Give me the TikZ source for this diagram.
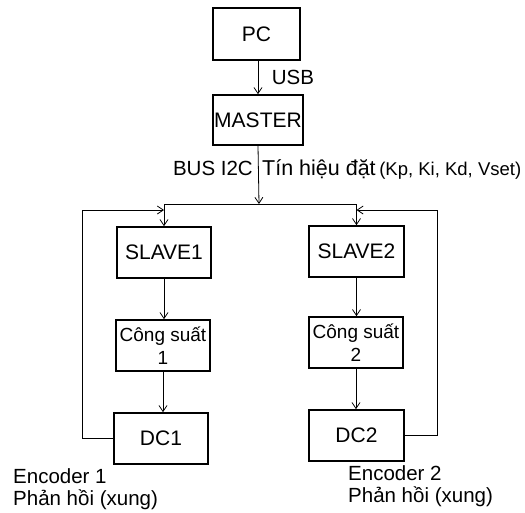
\documentclass[tikz,border=0pt]{standalone}
\usepackage{fontspec}
\setmainfont{Liberation Sans}
\usetikzlibrary{arrows.meta,positioning}

\begin{document}
\begin{tikzpicture}[x=1pt,y=-1pt,
    block/.style={draw, line width=1.6pt, minimum width=94pt, minimum height=51pt,
      inner sep=1pt, align=center, font=\fontsize{21}{23}\selectfont},
    link/.style={line width=0.8pt, -{Straight Barb[length=6pt,width=8pt]}},
    lbl/.style={inner sep=0pt, font=\fontsize{20.5}{22.5}\selectfont}]
    \useasboundingbox (0,0) rectangle (525,512);
    % master side
    \node[block, minimum width=87pt, minimum height=52pt] (pc) at (256.5,34) {PC};
    \node[block, minimum width=90pt, minimum height=50pt] (master) at (258,120) {MASTER};
    \draw[link] (master.north |- pc.south) -- (master.north);
    \node[lbl] (usb) at (293,77) {USB};
    % bus I2C
    \coordinate (bus) at (259,204);
    \draw[link] (master.south) -- (bus);
    \node[lbl, anchor=base east] (busl) at (253,175) {BUS I2C};
    \node[lbl, anchor=base west, font=\fontsize{21.5}{23}\selectfont] (sig) at (262,175)
      {Tín hiệu đặt\,{\fontsize{18.5}{20}\selectfont(Kp, Ki, Kd, Vset)}};
    % slaves
    \node[block] (slave1) at (164,252.5) {SLAVE1};
    \node[block, minimum width=95pt] (slave2) at (356.5,251.5) {SLAVE2};
    \node[block, font=\fontsize{19}{23}\selectfont] (cs1) at (163,345.5) {Công suất\\1};
    \node[block, font=\fontsize{19}{23}\selectfont] (cs2) at (356,342.5) {Công suất\\2};
    \node[block] (dc1) at (161,438.5) {DC1};
    \node[block, minimum width=95pt] (dc2) at (356.5,435.5) {DC2};
    \draw[line width=0.8pt] (slave1.north |- bus) -- (slave2.north |- bus);
    \draw[link] (slave1.north |- bus) -- (slave1.north);
    \draw[link] (slave2.north |- bus) -- (slave2.north);
    \draw[link] (slave1.south) -- (slave1.south |- cs1.north);
    \draw[link] (slave2.south) -- (slave2.south |- cs2.north);
    \draw[link] (cs1.south) -- (cs1.south |- dc1.north);
    \draw[link] (cs2.south) -- (cs2.south |- dc2.north);
    % feedback (encoder)
    \coordinate (fb1) at (82,210);
    \coordinate (fb2) at (437,210);
    \draw[link] (dc1.west) -| (fb1) -- (slave1.north |- fb1);
    \draw[link] (dc2.east) -| (fb2) -- (slave2.north |- fb2);
    \node[lbl, anchor=north west, align=left] (enc1) at (13,468) {Encoder 1\\Phản hồi (xung)};
    \node[lbl, anchor=north west, align=left] (enc2) at (348,465) {Encoder 2\\Phản hồi (xung)};
\end{tikzpicture}
\end{document}
